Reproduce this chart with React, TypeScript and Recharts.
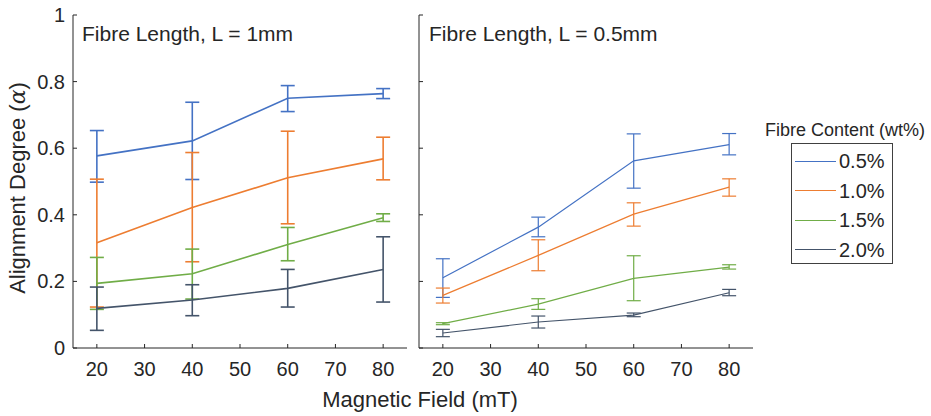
import React from "react";
import { LineChart, Line, XAxis, YAxis, ErrorBar } from "recharts";

const fields = [20, 40, 60, 80];
const xTicks = [20, 30, 40, 50, 60, 70, 80];
const yTicks = [0, 0.2, 0.4, 0.6, 0.8, 1];
const contents = ["0.5%", "1.0%", "1.5%", "2.0%"];
const colors = ["#4472C4", "#ED7D31", "#70AD47", "#44546A"];

// L = 1mm : mean values and error bar ends, one row per fibre content
const mean1mm = [
  [0.577, 0.622, 0.75, 0.764],
  [0.316, 0.422, 0.511, 0.568],
  [0.194, 0.223, 0.311, 0.391],
  [0.119, 0.144, 0.179, 0.236],
];
const low1mm = [
  [0.498, 0.506, 0.71, 0.749],
  [0.123, 0.259, 0.373, 0.505],
  [0.116, 0.147, 0.262, 0.38],
  [0.053, 0.097, 0.123, 0.138],
];
const high1mm = [
  [0.653, 0.738, 0.788, 0.779],
  [0.507, 0.587, 0.651, 0.633],
  [0.272, 0.297, 0.362, 0.403],
  [0.183, 0.19, 0.236, 0.334],
];

// L = 0.5mm
const mean05mm = [
  [0.211, 0.363, 0.562, 0.611],
  [0.158, 0.278, 0.402, 0.483],
  [0.073, 0.132, 0.209, 0.243],
  [0.045, 0.078, 0.099, 0.166],
];
const low05mm = [
  [0.152, 0.334, 0.48, 0.58],
  [0.135, 0.232, 0.366, 0.456],
  [0.07, 0.116, 0.142, 0.237],
  [0.034, 0.06, 0.094, 0.157],
];
const high05mm = [
  [0.268, 0.393, 0.643, 0.644],
  [0.18, 0.325, 0.436, 0.508],
  [0.076, 0.148, 0.277, 0.25],
  [0.056, 0.096, 0.105, 0.176],
];

const INK = "#262626";
const FONT = "'Liberation Sans', Arial, sans-serif";

function buildRows(mean: number[][], low: number[][], high: number[][]) {
  return fields.map((f, i) => {
    const row: any = { field: f };
    contents.forEach((_, s) => {
      row["s" + s] = mean[s][i];
      row["e" + s] = [mean[s][i] - low[s][i], high[s][i] - mean[s][i]];
    });
    return row;
  });
}

const fmtY = (v: number) => (v === 0 || v === 1 ? String(v) : v.toFixed(1));

function Panel({ rows, labels, lineWidth }: { rows: any[]; labels: boolean; lineWidth: number }) {
  return (
    <LineChart width={420} height={416} data={rows} margin={{ top: 15, right: 13, bottom: 0, left: 13 }}>
      <XAxis
        xAxisId="b"
        dataKey="field"
        type="number"
        domain={[15, 85]}
        ticks={xTicks}
        height={68}
        tickSize={0}
        tickMargin={0}
        tickLine={false}
        axisLine={{ stroke: INK }}
        tick={(p: any) => (
          <g>
            <line x1={p.x} y1={p.y} x2={p.x} y2={p.y - 4} stroke={INK} />
            <text x={p.x} y={p.y + 28} textAnchor="middle" fontSize={20} fill={INK} fontFamily={FONT}>
              {p.payload.value}
            </text>
          </g>
        )}
      />
      <XAxis
        xAxisId="t"
        orientation="top"
        type="number"
        domain={[15, 85]}
        ticks={xTicks}
        height={0}
        tickSize={0}
        tickMargin={0}
        tickLine={false}
        axisLine={{ stroke: INK }}
        tick={(p: any) => <line x1={p.x} y1={p.y} x2={p.x} y2={p.y + 4} stroke={INK} />}
      />
      <YAxis
        yAxisId="l"
        type="number"
        domain={[0, 1]}
        ticks={yTicks}
        width={60}
        tickSize={0}
        tickMargin={0}
        tickLine={false}
        axisLine={{ stroke: INK }}
        tick={(p: any) => (
          <g>
            <line x1={p.x} y1={p.y} x2={p.x + 4} y2={p.y} stroke={INK} />
            {labels && (
              <text x={p.x - 8} y={p.y + 7} textAnchor="end" fontSize={20} fill={INK} fontFamily={FONT}>
                {fmtY(p.payload.value)}
              </text>
            )}
          </g>
        )}
      />
      <YAxis
        yAxisId="r"
        orientation="right"
        type="number"
        domain={[0, 1]}
        ticks={yTicks}
        width={0}
        tickSize={0}
        tickMargin={0}
        tickLine={false}
        axisLine={{ stroke: INK }}
        tick={(p: any) => <line x1={p.x} y1={p.y} x2={p.x - 4} y2={p.y} stroke={INK} />}
      />
      {contents.map((c, s) => (
        <Line
          key={c}
          xAxisId="b"
          yAxisId="l"
          dataKey={"s" + s}
          stroke={colors[s]}
          strokeWidth={lineWidth}
          dot={false}
          activeDot={false}
          type="linear"
          isAnimationActive={false}
        >
          <ErrorBar dataKey={"e" + s} width={7} stroke={colors[s]} strokeWidth={lineWidth} direction="y" isAnimationActive={false} />
        </Line>
      ))}
    </LineChart>
  );
}

export default function App() {
  const rows1 = buildRows(mean1mm, low1mm, high1mm);
  const rows05 = buildRows(mean05mm, low05mm, high05mm);
  const title: React.CSSProperties = { position: "absolute", fontSize: 21, color: INK, whiteSpace: "nowrap", lineHeight: 1 };
  return (
    <div style={{ position: "absolute", left: 0, top: 0, width: 931, height: 416, background: "#fff", fontFamily: FONT, color: INK }}>
      <div style={{ position: "absolute", left: 0, top: 0 }}>
        <Panel rows={rows1} labels={true} lineWidth={1.6} />
      </div>
      <div style={{ position: "absolute", left: 346, top: 0 }}>
        <Panel rows={rows05} labels={false} lineWidth={1.2} />
      </div>
      <div style={{ ...title, left: 82, top: 23 }}>Fibre Length, L = 1mm</div>
      <div style={{ ...title, left: 429, top: 23 }}>Fibre Length, L = 0.5mm</div>
      <div style={{ position: "absolute", left: 320, top: 389, width: 200, textAlign: "center", fontSize: 22, lineHeight: 1, whiteSpace: "nowrap" }}>
        Magnetic Field (mT)
      </div>
      <div
        style={{
          position: "absolute",
          left: 18,
          top: 188,
          transform: "translate(-50%, -50%) rotate(-90deg)",
          fontSize: 22,
          lineHeight: 1,
          whiteSpace: "nowrap",
        }}
      >
        Alignment Degree (<i style={{ fontFamily: "'DejaVu Serif', serif" }}>α</i>)
      </div>
      <div style={{ position: "absolute", left: 745, top: 121, width: 200, textAlign: "center", fontSize: 18, lineHeight: 1, whiteSpace: "nowrap" }}>
        Fibre Content (wt%)
      </div>
      <div style={{ position: "absolute", left: 791, top: 143, width: 100, height: 119, border: "1px solid #404040", background: "#fff" }}>
        {contents.map((c, s) => (
          <div key={c} style={{ position: "absolute", left: 3, top: 6 + s * 29.5, height: 22, display: "flex", alignItems: "center" }}>
            <div style={{ width: 41, height: 0, borderTop: "1.2px solid " + colors[s] }} />
            <span style={{ marginLeft: 3, fontSize: 20, lineHeight: 1 }}>{c}</span>
          </div>
        ))}
      </div>
    </div>
  );
}
